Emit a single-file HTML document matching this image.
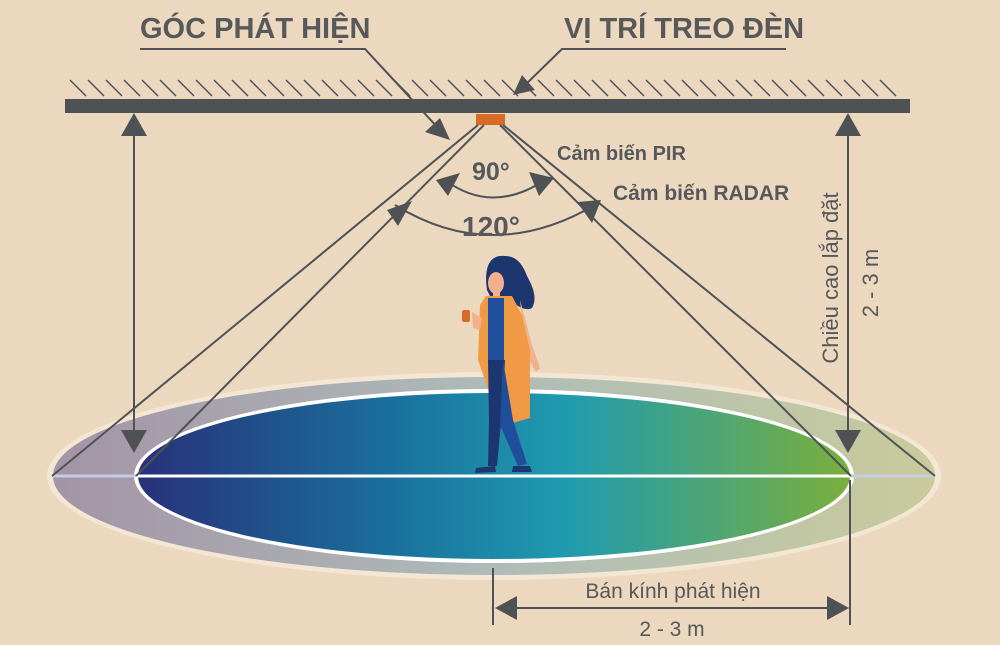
<!DOCTYPE html>
<html><head><meta charset="utf-8"><style>
html,body{margin:0;padding:0;background:#ebd8bf;}
svg{display:block}
</style></head><body>
<svg width="1000" height="645" viewBox="0 0 1000 645" xmlns="http://www.w3.org/2000/svg" font-family="Liberation Sans, DejaVu Sans, sans-serif">
<defs>
<linearGradient id="go" x1="0" x2="1">
<stop offset="0" stop-color="#a394a6"/><stop offset="0.5" stop-color="#aebcb9"/><stop offset="1" stop-color="#c9cb9c"/>
</linearGradient>
<linearGradient id="gi" x1="0" x2="1">
<stop offset="0" stop-color="#28317a"/><stop offset="0.35" stop-color="#1a6f9c"/><stop offset="0.6" stop-color="#1f9bb0"/><stop offset="1" stop-color="#7aaf3c"/>
</linearGradient>
</defs>
<rect width="1000" height="645" fill="#ebd8bf"/>
<ellipse cx="494" cy="476" rx="447" ry="104" fill="#f3e6d3"/>
<ellipse cx="494" cy="476" rx="441" ry="99" fill="url(#go)"/>
<ellipse cx="494" cy="476" rx="360" ry="87" fill="#fff"/>
<ellipse cx="494" cy="476" rx="356" ry="83" fill="url(#gi)"/>
<line x1="52" y1="476" x2="935" y2="476" stroke="#c8cce0" stroke-width="3"/>
<line x1="136" y1="476" x2="851" y2="476" stroke="#fff" stroke-width="3"/>
<g stroke="#4f5254" stroke-width="1.5">
<path d="M70 80 l16 16 M88 80 l16 16 M106 80 l16 16 M124 80 l16 16 M142 80 l16 16 M160 80 l16 16 M178 80 l16 16 M196 80 l16 16 M214 80 l16 16 M232 80 l16 16 M250 80 l16 16 M268 80 l16 16 M286 80 l16 16 M304 80 l16 16 M322 80 l16 16 M340 80 l16 16 M358 80 l16 16 M376 80 l16 16 M394 80 l16 16 M412 80 l16 16 M430 80 l16 16 M448 80 l16 16 M466 80 l16 16 M484 80 l16 16 M502 80 l16 16 M520 80 l16 16 M538 80 l16 16 M556 80 l16 16 M574 80 l16 16 M592 80 l16 16 M610 80 l16 16 M628 80 l16 16 M646 80 l16 16 M664 80 l16 16 M682 80 l16 16 M700 80 l16 16 M718 80 l16 16 M736 80 l16 16 M754 80 l16 16 M772 80 l16 16 M790 80 l16 16 M808 80 l16 16 M826 80 l16 16 M844 80 l16 16 M862 80 l16 16 M880 80 l16 16"/>
</g>
<rect x="65" y="99" width="845" height="14" fill="#4f5254"/>
<rect x="476" y="114" width="29" height="11" fill="#d86a26"/>
<g stroke="#4f5254" stroke-width="2" fill="none">
<line x1="478" y1="125" x2="52" y2="476"/>
<line x1="484" y1="125" x2="136" y2="476"/>
<line x1="503" y1="125" x2="935" y2="476"/>
<line x1="500" y1="125" x2="851" y2="476"/>
<path d="M445 180 Q492 215 545 180"/>
<path d="M395 205 Q492 265 595 205"/>
<polyline points="140,49 365,49 440,130"/>
<polyline points="786,49 562,49 522,88"/>
<line x1="134" y1="125" x2="134" y2="445"/>
<line x1="848" y1="125" x2="848" y2="445"/>
<line x1="493" y1="568" x2="493" y2="625"/>
<line x1="850" y1="480" x2="850" y2="625"/>
<line x1="505" y1="608" x2="840" y2="608"/>
</g>
<g fill="#4f5254">
<polygon points="134,113 121,136 147,136"/>
<polygon points="134,453 121,430 147,430"/>
<polygon points="848,113 835,136 861,136"/>
<polygon points="848,453 835,430 861,430"/>
<polygon points="495,608 517,596 517,620"/>
<polygon points="849,608 827,596 827,620"/>
<polygon points="450,140 425,132 440,118"/>
<polygon points="513,95 522,75 535,90"/>
<polygon points="436,180 460,173 448,196"/>
<polygon points="554,178 529,172 539,196"/>
<polygon points="387,210 412,201 398,226"/>
<polygon points="601,200 577,202 592,223"/>
</g>
<!-- person -->
<g>
<path d="M505 256 C488 254 484 270 487 290 L490 296 L508 298 C515 305 525 312 532 308 C538 298 532 285 527 276 C522 262 515 256 505 256 Z" fill="#1e3670"/>
<ellipse cx="496" cy="283" rx="8" ry="11" fill="#f2b08c"/>
<rect x="493" y="291" width="7" height="8" fill="#f2b08c"/>
<path d="M520 300 L532 345 L540 368 L536 372 L525 352 Z" fill="#f2b08c"/>
<path d="M486 296 L512 296 L522 315 L530 350 L530 418 L516 422 L505 425 L492 400 L478 360 L480 305 Z" fill="#f19a45"/>
<rect x="488" y="298" width="16" height="62" fill="#1f4f9a"/>
<path d="M488 360 L505 360 L503 400 L497 466 L488 466 L489 420 Z" fill="#1e3670"/>
<path d="M503 360 L513 420 L527 464 L518 466 L500 425 Z" fill="#1f4f9a"/>
<path d="M476 468 L495 466 L496 472 L475 473 Z M513 466 L530 466 L532 472 L512 472 Z" fill="#1e3670"/>
<path d="M472 312 L482 318 L480 330 L473 328 Z" fill="#f2b08c"/>
<rect x="462" y="310" width="8" height="12" fill="#d86a26" rx="2"/>
</g>
<g fill="#56585a" font-weight="bold">
<text x="140" y="38" font-size="29">GÓC PHÁT HIỆN</text>
<text x="564" y="38" font-size="29">VỊ TRÍ TREO ĐÈN</text>
<text x="557" y="160" font-size="20">Cảm biến PIR</text>
<text x="613" y="200" font-size="21">Cảm biến RADAR</text>
<text x="472" y="180" font-size="25">90°</text>
<text x="462" y="236" font-size="28">120°</text>
</g>
<g fill="#56585a">
<text x="673" y="598" text-anchor="middle" font-size="21">Bán kính phát hiện</text>
<text x="672" y="636" text-anchor="middle" font-size="21">2 - 3 m</text>
<text transform="translate(838,278) rotate(-90)" text-anchor="middle" font-size="22">Chiều cao lắp đặt</text>
<text transform="translate(878,283) rotate(-90)" text-anchor="middle" font-size="22">2 - 3 m</text>
</g>
</svg>
</body></html>
